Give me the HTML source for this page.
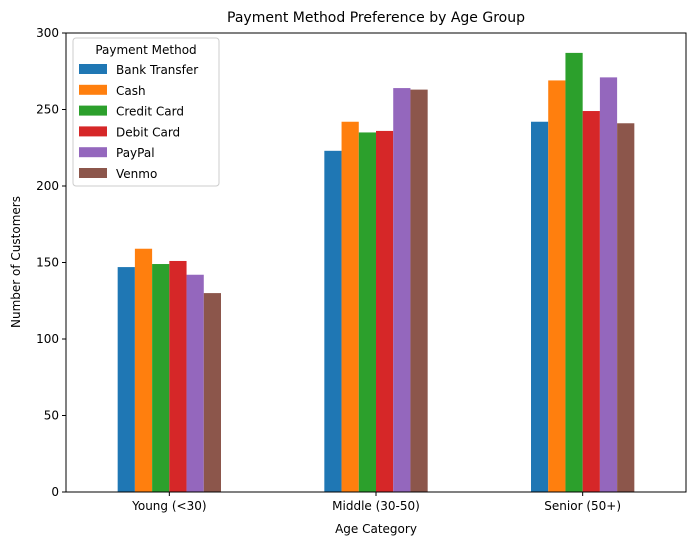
<!DOCTYPE html>
<html><head><meta charset="utf-8"><style>
body{margin:0;background:#fff;font-family:"Liberation Sans","DejaVu Sans",sans-serif}
</style></head><body>
<svg width="695" height="545" xmlns="http://www.w3.org/2000/svg" font-family="DejaVu Sans, Liberation Sans, sans-serif">
<g id="g"></g>
</svg>
<script>
const categories=["Young (<30)","Middle (30-50)","Senior (50+)"];
const seriesNames=["Bank Transfer","Cash","Credit Card","Debit Card","PayPal","Venmo"];
const colors=["#1f77b4","#ff7f0e","#2ca02c","#d62728","#9467bd","#8c564b"];
const bankTransfer=[147,223,242];
const cash=[159,242,269];
const creditCard=[149,235,287];
const debitCard=[151,236,249];
const paypal=[142,264,271];
const venmo=[130,263,241];
const yTicks=[0,50,100,150,200,250,300];
const series=[bankTransfer,cash,creditCard,debitCard,paypal,venmo];
const L=66,R=686,T=33,B=492,ymax=300;
const ns="http://www.w3.org/2000/svg",g=document.getElementById('g');
function y(v){return B-v/ymax*(B-T);}
function xc(i){return L+(i+0.5)*(R-L)/categories.length;}
function el(t,a,txt){const e=document.createElementNS(ns,t);for(const k in a)e.setAttribute(k,a[k]);if(txt!==undefined)e.textContent=txt;g.appendChild(e);return e;}
const bw=(R-L)/categories.length*0.5/series.length;
series.forEach((s,j)=>s.forEach((v,i)=>{
 const e=el('rect',{x:xc(i)-bw*3+j*bw,y:y(v),width:bw,height:B-y(v),fill:colors[j]});
 
 
}));
let f=el('rect',{x:L,y:T,width:R-L,height:B-T,fill:'none',stroke:'#000','stroke-width':1});

yTicks.forEach(t=>{
 let a=el('line',{x1:L-4,x2:L,y1:y(t),y2:y(t),stroke:'#000'});
 let b=el('text',{x:L-7,y:y(t)+4,'text-anchor':'end','font-size':12},t);
});
categories.forEach((c,i)=>{
 let a=el('line',{x1:xc(i),x2:xc(i),y1:B,y2:B+4,stroke:'#000'});
 let b=el('text',{x:xc(i),y:B+18,'text-anchor':'middle','font-size':12},c);
});
let t1=el('text',{x:376,y:22,'text-anchor':'middle','font-size':14},'Payment Method Preference by Age Group');
let t2=el('text',{x:376,y:533,'text-anchor':'middle','font-size':12},'Age Category');
let t3=el('text',{x:20,y:262,'text-anchor':'middle','font-size':12,transform:'rotate(-90 20 262)'},'Number of Customers');
let lb=el('rect',{x:73,y:38,width:146,height:148,fill:'#fff','fill-opacity':0.8,stroke:'#ccc',rx:3});
let lt=el('text',{x:146,y:54,'text-anchor':'middle','font-size':12},'Payment Method');
seriesNames.forEach((n,j)=>{
 const yy=64+j*20.8;
 let r=el('rect',{x:79,y:yy,width:28,height:10,fill:colors[j]});
 let tx=el('text',{x:116,y:yy+10,'font-size':12},n);
});
</script>
</body></html>
